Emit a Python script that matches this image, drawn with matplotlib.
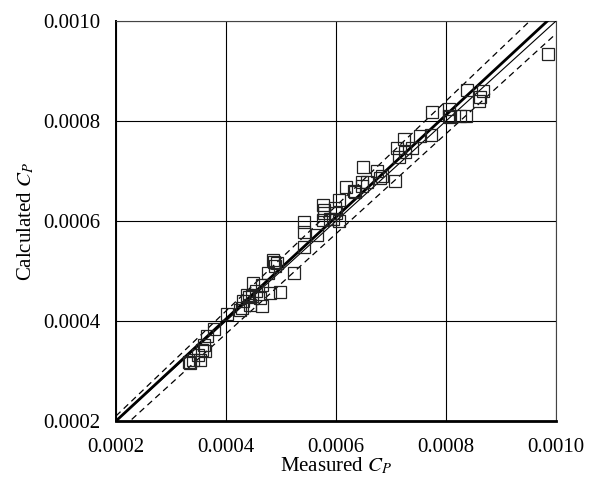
import matplotlib
matplotlib.use("Agg")
import matplotlib.pyplot as plt
import numpy as np

plt.rcParams['font.family'] = ['Liberation Serif', 'DejaVu Serif']
plt.rcParams['mathtext.fontset'] = 'stix'

# Measured vs calculated Cp (units of 1e-4)
measured = [3.33, 3.35, 3.40, 3.53, 3.50, 3.56, 3.62, 3.60, 3.65, 3.78,
            4.01, 4.25, 4.30, 4.44, 4.65, 4.31, 4.38, 4.47, 4.62, 4.80,
            4.98, 4.50, 4.65, 4.77, 5.24, 4.86, 4.93, 4.90, 4.88, 4.55,
            4.42, 5.41, 5.41, 5.65, 5.41, 5.77, 5.89, 5.95, 6.06, 5.78,
            5.78, 5.77, 5.98, 6.00, 6.06, 6.19, 6.35, 6.32, 6.47, 6.47,
            6.56, 6.49, 6.74, 6.80, 6.83, 7.07, 7.11, 7.38, 7.15, 7.25,
            7.24, 7.52, 7.72, 7.74, 8.06, 8.07, 8.06, 8.25, 8.36, 8.38,
            8.67, 8.61, 8.60, 9.85]
calculated = [3.17, 3.15, 3.22, 3.22, 3.32, 3.42, 3.39, 3.52, 3.69, 3.83,
              4.14, 4.22, 4.25, 4.32, 4.29, 4.39, 4.52, 4.49, 4.45, 4.55,
              4.57, 4.75, 4.72, 4.95, 4.95, 5.21, 5.15, 5.10, 5.18, 4.60,
              4.47, 5.47, 5.77, 5.72, 5.97, 6.02, 6.04, 6.04, 6.00, 6.15,
              6.22, 6.32, 6.25, 6.15, 6.42, 6.67, 6.57, 6.60, 6.69, 6.77,
              6.77, 7.07, 7.00, 6.85, 6.89, 6.79, 7.45, 7.45, 7.27, 7.37,
              7.63, 7.70, 7.71, 8.17, 8.23, 8.07, 8.10, 8.10, 8.10, 8.62,
              8.60, 8.47, 8.39, 9.34]
measured = np.array(measured) * 1e-4
calculated = np.array(calculated) * 1e-4

ticks = [0.0002, 0.0004, 0.0006, 0.0008, 0.0010]
tick_labels = ['0.0002', '0.0004', '0.0006', '0.0008', '0.0010']

# reference lines: (slope, intercept)
ideal_line = (1.0, 0.0)
fit_line = (1.02, -0.000004)
upper_band = (1.05, 0.0)
lower_band = (1.0, -0.0000255)

fig = plt.figure(figsize=(6, 4.94), dpi=100)
ax = fig.add_axes([0.1933, 0.1478, 0.7334, 0.8097])

xs = np.linspace(0.0002, 0.0010, 200)
def line(p):
    return p[0] * xs + p[1]

ax.plot(xs, line(ideal_line), color='black', lw=0.8, zorder=3)
ax.plot(xs, line(fit_line), color='black', lw=2.0, zorder=4)
ax.plot(xs, line(upper_band), color='black', lw=0.9, dashes=(5, 3.5), zorder=3)
ax.plot(xs, line(lower_band), color='black', lw=0.9, dashes=(5, 3.5), zorder=3)

ax.plot(measured, calculated, linestyle='none', marker='s', ms=8,
        mfc='none', mec='#222222', mew=0.9, zorder=5)

ax.set_xlim(0.0002, 0.0010)
ax.set_ylim(0.0002, 0.0010)
ax.set_xticks(ticks)
ax.set_xticklabels(tick_labels)
ax.set_yticks(ticks)
ax.set_yticklabels(tick_labels)
ax.tick_params(axis='both', length=0, labelsize=15, colors='black')
ax.tick_params(axis='x', pad=12)
ax.tick_params(axis='y', pad=11)
ax.grid(True, color='black', lw=0.8)
ax.set_axisbelow(True)

ax.spines['bottom'].set_linewidth(2.0)
ax.spines['left'].set_linewidth(1.4)
ax.spines['top'].set_linewidth(0.8)
ax.spines['right'].set_linewidth(0.8)
ax.spines['top'].set_color('#444444')
ax.spines['right'].set_color('#444444')

ax.set_xlabel('Measured $C_P$', fontsize=15, labelpad=-1)
ax.set_ylabel('Calculated $C_P$', fontsize=15, labelpad=5)

fig.savefig('out.png', dpi=100)
